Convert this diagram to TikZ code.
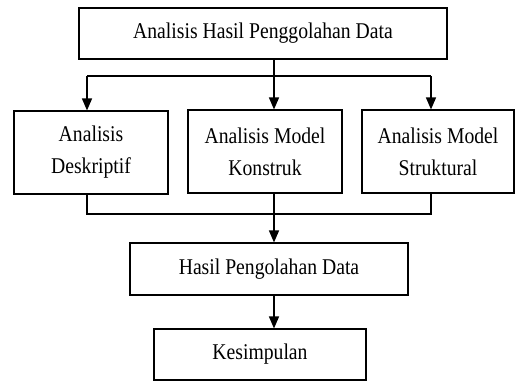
\documentclass[tikz,border=0pt]{standalone}
\usepackage{fontspec}
\setmainfont{Liberation Serif}[FakeStretch=0.875]
\usetikzlibrary{arrows.meta, calc}

\begin{document}
\begin{tikzpicture}[x=1pt, y=-1pt,
		box/.style={draw, line width=1.1pt, inner sep=0pt, align=center, font=\fontsize{22.5}{32}\selectfont},
		arr/.style={-{Triangle[length=12pt, width=10pt]}, line width=1.3pt},
		link/.style={line width=1.3pt}]
			\useasboundingbox (0, 0) rectangle (515, 381);
			
			\coordinate (sL) at (87, 76);
			\coordinate (sM) at (274, 76);
			\coordinate (sR) at (431, 76);
			\coordinate (jL) at (87, 214);
			\coordinate (jM) at (274, 214);
			\coordinate (jR) at (431, 214);
			
			\node[box, minimum width=368pt, minimum height=51pt] (hasilAnalisis) at (263, 33.5) {Analisis Hasil Penggolahan Data};
			
			\node[box, minimum width=154pt, minimum height=83pt] (deskriptif) at (91, 152.5) {Analisis\\Deskriptif};
			\node[box, minimum width=154pt, minimum height=83pt] (konstruk) at (265, 151.5) {Analisis Model\\Konstruk};
			\node[box, minimum width=152pt, minimum height=83pt] (struktural) at (438, 151.5) {Analisis Model\\Struktural};
			
			\node[box, minimum width=278pt, minimum height=52pt] (pengolahan) at (269, 269) {Hasil Pengolahan Data};
			\node[box, minimum width=212pt, minimum height=51pt] (kesimpulan) at (260, 354.5) {Kesimpulan};
			
			\draw[link] (sM |- hasilAnalisis.south) -- (sM);
			\draw[link] (sL) -- (sR);
			\draw[arr] (sL) -- (sL |- deskriptif.north);
			\draw[arr] (sM) -- (sM |- konstruk.north);
			\draw[arr] (sR) -- (sR |- struktural.north);
			
			\draw[link] (jL |- deskriptif.south) -- (jL) -- (jR) -- (jR |- struktural.south);
			\draw[arr] (jM |- konstruk.south) -- (jM |- pengolahan.north);
			\draw[arr] (jM |- pengolahan.south) -- (jM |- kesimpulan.north);
			
		\end{tikzpicture}
\end{document}
